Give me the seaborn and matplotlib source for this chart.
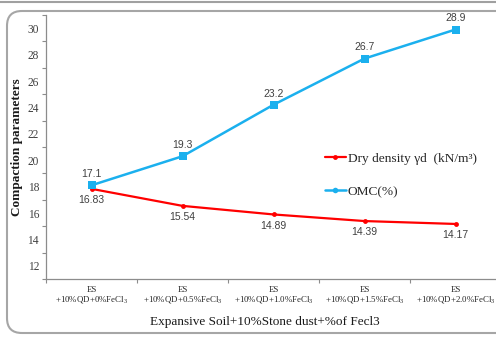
import matplotlib
matplotlib.use("Agg")
import matplotlib.pyplot as plt
import seaborn as sns
import pandas as pd
from matplotlib.patches import FancyBboxPatch
from matplotlib.lines import Line2D

categories = ["ES\n+10%QD+0%FeCl$_3$", "ES\n+10%QD+0.5%FeCl$_3$", "ES\n+10%QD+1.0%FeCl$_3$",
              "ES\n+10%QD+1.5%FeCl$_3$", "ES\n+10%QD+2.0%FeCl$_3$"]
dry_density = [16.83, 15.54, 14.89, 14.39, 14.17]
omc = [17.1, 19.3, 23.2, 26.7, 28.9]
ytick_labels = ["12", "14", "16", "18", "20", "22", "24", "26", "28", "30"]

sns.set_theme(style="white")
plt.rcParams["font.family"] = ["Liberation Serif", "DejaVu Serif"]
plt.rcParams["mathtext.fontset"] = "custom"
plt.rcParams["mathtext.rm"] = "Liberation Serif"

df = pd.DataFrame({"x": list(range(len(categories))) * 2,
                   "value": dry_density + omc,
                   "series": ["Dry density γd  (kN/m³)"] * 5 + ["OMC(%)"] * 5})

fig = plt.figure(figsize=(4.96, 3.37), dpi=100)
W, H = 496, 337
ax = fig.add_axes([46 / W, 1 - 279 / H, 455 / W, 264 / H])

red = "#FF0000"
blue = "#1BB0EE"
sns.lineplot(data=df[df.series.str.startswith("Dry")], x="x", y="value", ax=ax,
             color=red, lw=1.6, marker="o", markersize=3.5, markeredgewidth=0, legend=False)
sns.lineplot(data=df[df.series.str.startswith("OMC")], x="x", y="value", ax=ax,
             color=blue, lw=1.8, marker="s", markersize=5.5, markeredgewidth=0, legend=False)

ax.set_xlim(-0.5, 4.5)
ax.set_ylim(10, 30)
for s in ["top", "right"]:
    ax.spines[s].set_visible(False)
for s in ["left", "bottom"]:
    ax.spines[s].set_color("#8C8C8C")
    ax.spines[s].set_linewidth(0.9)

# major ticks = marks, minor = labels
ax.set_yticks(range(10, 31, 2))
ax.set_yticklabels([])
ax.set_yticks([v - 1 for v in range(12, 31, 2)], minor=True)
ax.set_yticklabels(ytick_labels, minor=True, fontsize=8.3, color="#404040")
ax.set_xticks([i - 0.5 for i in range(6)])
ax.set_xticklabels([])
ax.set_xticks(range(5), minor=True)
ax.set_xticklabels(categories, minor=True, fontsize=6.4, color="#262626", linespacing=1.0)
ax.tick_params(axis="both", which="major", direction="out", length=3, width=0.8, color="#8C8C8C",
               left=True, bottom=True)
ax.tick_params(axis="both", which="minor", length=0, left=True, bottom=True)
ax.tick_params(axis="y", which="minor", pad=5)
ax.tick_params(axis="x", which="minor", pad=5)
ax.set_xlabel("Expansive Soil+10%Stone dust+%of Fecl3", fontsize=9.5, color="#1a1a1a", va="center")
ax.set_ylabel("Compaction parameters", fontsize=9.5, fontweight="bold", color="#1a1a1a", va="center")
ax.xaxis.set_label_coords((265 - 46) / 455, (279 - 322) / 264)
ax.yaxis.set_label_coords((17 - 46) / 455, 0.5)

for i, v in enumerate(omc):
    ax.annotate(f"{v:g}", (i, v), xytext=(0, 4.5), textcoords="offset points", ha="center",
                va="bottom", fontsize=7.5, color="#404040", family="Liberation Sans")
for i, v in enumerate(dry_density):
    ax.annotate(f"{v:g}", (i, v), xytext=(0, -4.5), textcoords="offset points", ha="center",
                va="top", fontsize=7.5, color="#404040", family="Liberation Sans")

handles = [Line2D([], [], color=red, lw=1.6, marker="o", markersize=3.5, markeredgewidth=0),
           Line2D([], [], color=blue, lw=1.8, marker="o", markersize=4, markeredgewidth=0)]
leg = fig.legend(handles, ["Dry density γd  (kN/m³)", "OMC(%)"], loc="upper left",
                 bbox_to_anchor=(318 / W, 1 - 146 / H), frameon=False, fontsize=9.6,
                 handlelength=1.6, handletextpad=0.15, labelspacing=1.55, borderpad=0)
for t in leg.get_texts():
    t.set_color("#262626")

# chart-area frame
fig.patches.append(FancyBboxPatch((7 / W, 4 / H), 1.2, 1 - 11 / H - 4 / H,
                                  boxstyle="round,pad=0,rounding_size=0.03",
                                  transform=fig.transFigure, fill=False,
                                  edgecolor="#A6A6A6", lw=1.5, mutation_aspect=W / H))
fig.add_artist(Line2D([0, 1], [1 - 1.5 / H, 1 - 1.5 / H], transform=fig.transFigure,
                      color="#A0A0A0", lw=1.5))

fig.savefig("out.png", dpi=100)
